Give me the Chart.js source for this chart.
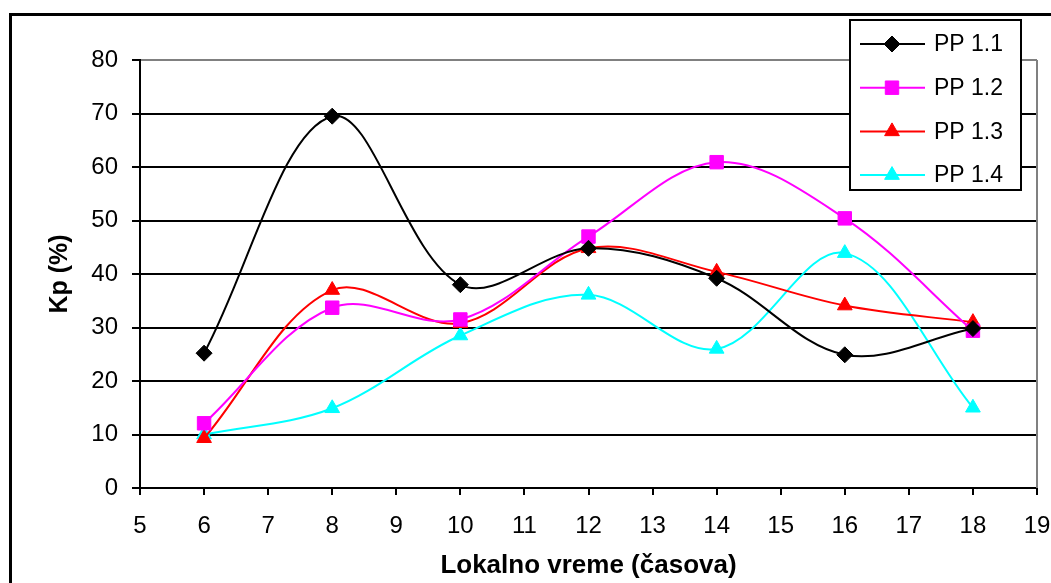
<!DOCTYPE html>
<html>
<head>
<meta charset="utf-8">
<script src="https://cdn.jsdelivr.net/npm/chart.js@4"></script>
<style>
  body { margin: 0; background: #fff; }
  #kpChart { display: block; }
</style>
</head>
<body>
<canvas id="kpChart" width="1051" height="583"></canvas>
<script>
// Kp values by local time
const hours = [6, 8, 10, 12, 14, 16, 18];
const pp11 = [25.2, 69.5, 38.0, 44.8, 39.2, 24.9, 29.8];
const pp12 = [12.1, 33.7, 31.5, 47.0, 60.9, 50.4, 29.4];
const pp13 = [9.3, 37.0, 30.8, 44.8, 40.4, 34.1, 31.0];
const pp14 = [10.0, 14.9, 28.5, 36.1, 26.0, 43.9, 15.0];

const seriesNames = ['PP 1.1', 'PP 1.2', 'PP 1.3', 'PP 1.4'];
const seriesValues = [pp11, pp12, pp13, pp14];
const seriesColors = ['#000000', '#FF00FF', '#FF0000', '#00FFFF'];
const seriesMarkers = ['rectRot', 'rect', 'triangle', 'triangle'];
const markerSizes = [8, 9.5, 8.5, 8.5];

const FONT = "'Liberation Sans', Arial, sans-serif";

const datasets = seriesNames.map((name, i) => ({
  label: name,
  data: hours.map((h, j) => ({ x: h, y: seriesValues[i][j] })),
  borderColor: seriesColors[i],
  backgroundColor: seriesColors[i],
  borderWidth: 2,
  pointStyle: seriesMarkers[i],
  pointRadius: markerSizes[i],
  pointBorderWidth: 1,
  pointBackgroundColor: seriesColors[i],
  pointBorderColor: seriesColors[i],
  tension: 0.35,
  fill: false
}));

// outer frame + gray plot border on the right
const framePlugin = {
  id: 'frame',
  beforeDraw(chart) {
    const c = chart.ctx;
    c.save();
    c.fillStyle = '#fff';
    c.fillRect(0, 0, chart.width, chart.height);
    c.strokeStyle = '#000';
    c.lineWidth = 3;
    c.strokeRect(10.5, 14.5, 1100, 700);
    c.restore();
  },
  beforeDatasetsDraw(chart) {
    const a = chart.chartArea;
    const c = chart.ctx;
    c.save();
    c.strokeStyle = '#808080';
    c.lineWidth = 2;
    c.beginPath();
    c.moveTo(a.right, a.top);
    c.lineTo(a.right, a.bottom);
    c.stroke();
    c.restore();
  }
};

// boxed legend: line with marker, then label
const legendPlugin = {
  id: 'boxLegend',
  afterDatasetsDraw(chart) {
    const c = chart.ctx;
    const box = { x: 850, y: 20, w: 171, h: 170 };
    c.save();
    c.fillStyle = '#fff';
    c.fillRect(box.x, box.y, box.w, box.h);
    c.strokeStyle = '#000';
    c.lineWidth = 2;
    c.strokeRect(box.x, box.y, box.w, box.h);
    c.font = '23px ' + FONT;
    c.textBaseline = 'middle';
    c.textAlign = 'left';
    chart.data.datasets.forEach((ds, i) => {
      const y = 44 + i * 43.7;
      c.strokeStyle = ds.borderColor;
      c.lineWidth = 2;
      c.beginPath();
      c.moveTo(860, y);
      c.lineTo(925, y);
      c.stroke();
      c.fillStyle = ds.pointBackgroundColor;
      c.strokeStyle = ds.pointBorderColor;
      c.lineWidth = 1;
      Chart.helpers.drawPoint(c, { pointStyle: ds.pointStyle, radius: ds.pointRadius, borderWidth: 1, rotation: 0 }, 892, y);
      c.fillStyle = '#000';
      c.fillText(ds.label, 934, y + 1);
    });
    c.restore();
  }
};

new Chart(document.getElementById('kpChart').getContext('2d'), {
  type: 'line',
  data: { datasets: datasets },
  options: {
    responsive: false,
    animation: false,
    devicePixelRatio: 1,
    layout: { padding: { left: 0, top: 60, right: 14, bottom: 0 } },
    plugins: {
      legend: { display: false },
      tooltip: { enabled: false }
    },
    scales: {
      x: {
        type: 'linear',
        min: 5,
        max: 19,
        afterFit: s => { s.height = 95; s.paddingLeft = 0; s.paddingRight = 0; },
        ticks: { stepSize: 1, color: '#000', padding: 17, font: { family: FONT, size: 24 } },
        grid: { drawOnChartArea: false, drawTicks: true, tickLength: 7, tickColor: '#000', lineWidth: 2 },
        border: { color: '#000', width: 2 },
        title: {
          display: true,
          text: 'Lokalno vreme (časova)',
          color: '#000',
          font: { family: FONT, size: 26, weight: 'bold' },
          padding: { top: 0, bottom: 2 }
        }
      },
      y: {
        min: 0,
        max: 80,
        afterFit: s => { s.width = 140; s.paddingTop = 0; s.paddingBottom = 0; },
        ticks: { stepSize: 10, color: '#000', padding: 14, font: { family: FONT, size: 24 } },
        grid: {
          color: ctx => (ctx.tick && ctx.tick.value === 80 ? '#808080' : '#000'),
          tickColor: '#000',
          tickLength: 8,
          lineWidth: 2
        },
        border: { color: '#000', width: 2 },
        title: {
          display: true,
          text: 'Kp (%)',
          color: '#000',
          font: { family: FONT, size: 25, weight: 'bold' },
          padding: { top: 45, bottom: 0 }
        }
      }
    }
  },
  plugins: [framePlugin, legendPlugin]
});
</script>
</body>
</html>
